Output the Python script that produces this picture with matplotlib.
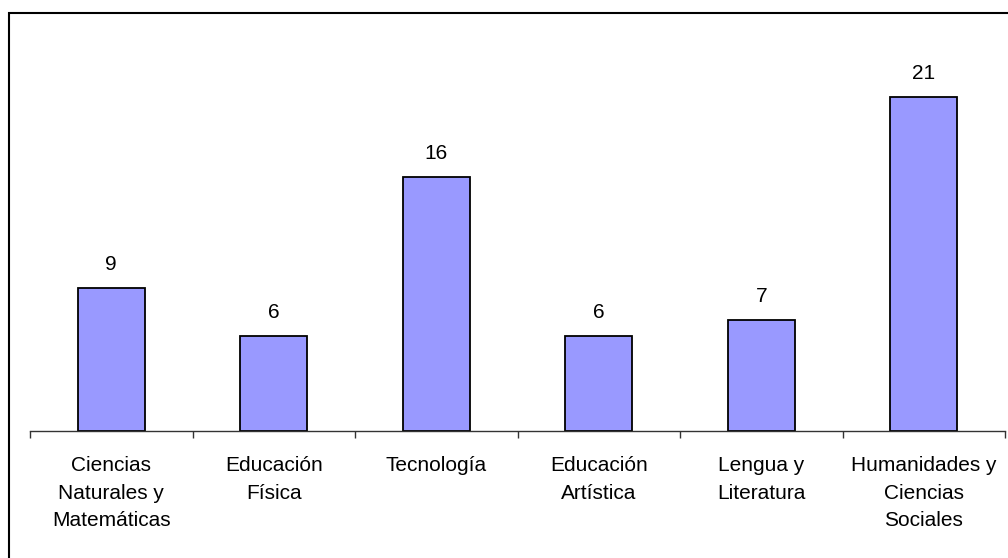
import matplotlib
matplotlib.use("Agg")
import matplotlib.pyplot as plt
from matplotlib.patches import Rectangle
import numpy as np

categories = ["Ciencias\nNaturales y\nMatemáticas", "Educación\nFísica", "Tecnología",
              "Educación\nArtística", "Lengua y\nLiteratura", "Humanidades y\nCiencias\nSociales"]
values = [9, 6, 16, 6, 7, 21]

plt.rcParams['font.family'] = ['Liberation Sans', 'DejaVu Sans']

W, H = 1008, 558
fig = plt.figure(figsize=(W/100, H/100), dpi=100)
ax = fig.add_axes([30/W, 1-431/H, (1005-30)/W, (431-33.4)/H])

x = np.arange(len(values))
ax.bar(x, values, width=0.41, color='#9999FF', edgecolor='black', linewidth=1.3)
for xi, v in zip(x, values):
    ax.annotate(str(v), (xi, v), xytext=(0, 10), textcoords='offset points',
                ha='center', va='bottom', fontsize=15)

ax.set_xlim(-0.5, len(values)-0.5)
ax.set_ylim(0, 25)
for s in ['top', 'right', 'left']:
    ax.spines[s].set_visible(False)
ax.spines['bottom'].set_color('#333333')
ax.spines['bottom'].set_linewidth(1.0)
ax.set_yticks([])
ax.set_xticks(x)
ax.set_xticklabels(categories, fontsize=15, linespacing=1.58)
ax.tick_params(axis='x', which='major', length=0, pad=18)
ax.set_xticks(np.arange(-0.5, len(values)), minor=True)
ax.tick_params(axis='x', which='minor', length=5, width=1.0, color='#333333', direction='out')

fig.patches.append(Rectangle((8.5/W, -0.1), 1.2, 1 - 13/H + 0.1, transform=fig.transFigure,
                             fill=False, edgecolor='black', linewidth=1.5))

fig.savefig('out.png', dpi=100)
